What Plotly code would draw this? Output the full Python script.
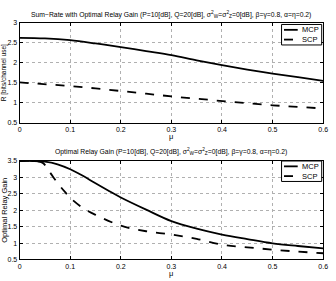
import plotly.graph_objects as go

mu_top = [0, 0.05, 0.1, 0.15, 0.2, 0.25, 0.3, 0.35, 0.4, 0.45, 0.5, 0.55, 0.6]
rate_mcp = [2.62, 2.605, 2.56, 2.48, 2.39, 2.29, 2.19, 2.06, 1.94, 1.83, 1.73, 1.64, 1.55]
rate_scp = [1.51, 1.47, 1.42, 1.36, 1.30, 1.23, 1.16, 1.10, 1.04, 0.99, 0.94, 0.90, 0.86]

mu_gain_mcp = [0, 0.025, 0.05, 0.075, 0.1, 0.125, 0.15, 0.175, 0.2, 0.25, 0.3, 0.35, 0.4, 0.45, 0.5, 0.55, 0.6]
gain_mcp = [3.5, 3.5, 3.48, 3.4, 3.25, 3.05, 2.82, 2.6, 2.39, 2.02, 1.67, 1.44, 1.26, 1.12, 0.99, 0.91, 0.84]
mu_gain_scp = [0, 0.025, 0.045, 0.06, 0.075, 0.09, 0.1, 0.125, 0.15, 0.2, 0.25, 0.3, 0.35, 0.4, 0.45, 0.5, 0.55, 0.6]
gain_scp = [3.5, 3.5, 3.45, 3.15, 2.83, 2.55, 2.38, 2.07, 1.86, 1.53, 1.36, 1.26, 1.13, 0.95, 0.87, 0.8, 0.74, 0.69]

yticks_top = [0.5, 1, 1.5, 2, 2.5, 3]
yticks_bot = [0.5, 1, 1.5, 2, 2.5, 3, 3.5]
xticks = [0, 0.1, 0.2, 0.3, 0.4, 0.5, 0.6]
series_names = ["MCP", "SCP"]

W, H = 336, 281
def px(x):
    return x / W
def py(y):
    return 1 - y / H

fig = go.Figure()
fig.add_trace(go.Scatter(x=mu_top, y=rate_mcp, mode="lines", name=series_names[0], line=dict(color="black", width=1.8, shape="spline"),
                         xaxis="x", yaxis="y"))
fig.add_trace(go.Scatter(x=mu_top, y=rate_scp, mode="lines", name=series_names[1], line=dict(color="black", width=1.8, dash="dash"),
                         xaxis="x", yaxis="y"))
fig.add_trace(go.Scatter(x=mu_gain_mcp, y=gain_mcp, mode="lines", name=series_names[0], line=dict(color="black", width=1.8, shape="spline"),
                         xaxis="x2", yaxis="y2"))
fig.add_trace(go.Scatter(x=mu_gain_scp, y=gain_scp, mode="lines", name=series_names[1], line=dict(color="black", width=1.8, dash="dash", shape="spline"),
                         xaxis="x2", yaxis="y2"))

ax = dict(showline=True, linecolor="black", linewidth=1, mirror="ticks", ticks="inside", ticklen=3,
          tickcolor="black", showgrid=True, gridcolor="#b0b0b0", griddash="dot", gridwidth=1,
          zeroline=False, tickfont=dict(size=7, color="black"), ticklabelstandoff=0)

xticktext = ["0", "0.1", "0.2", "0.3", "0.4", "0.5", "0.6"]

shapes = []
annotations = [
    dict(text="Sum−Rate with Optimal Relay Gain (P=10[dB], Q=20[dB], σ<sup>2</sup><sub>W</sub>=σ<sup>2</sup><sub>Z</sub>=0[dB], β=γ=0.8, α=η=0.2)",
         x=px(173), y=py(11), xref="paper", yref="paper", showarrow=False, font=dict(size=6.8), yanchor="middle"),
    dict(text="Optimal Relay Gain (P=10[dB], Q=20[dB], σ<sup>2</sup><sub>W</sub>=σ<sup>2</sup><sub>Z</sub>=0[dB], β=γ=0.8, α=η=0.2)",
         x=px(173), y=py(151), xref="paper", yref="paper", showarrow=False, font=dict(size=6.8), yanchor="middle"),
    dict(text="μ", x=px(173), y=py(136), xref="paper", yref="paper", showarrow=False, font=dict(size=7.5), yanchor="middle"),
    dict(text="μ", x=px(173), y=py(276.5), xref="paper", yref="paper", showarrow=False, font=dict(size=7.5), yanchor="middle"),
]

# legend boxes (one per panel)
for top in (21, 161):
    shapes.append(dict(type="rect", xref="paper", yref="paper", x0=px(285.5), x1=px(326.5), y0=py(top), y1=py(top + 21),
                       line=dict(color="black", width=1), fillcolor="white", layer="above"))
    for i, (name, dash) in enumerate(zip(series_names, ["solid", "dash"])):
        yy = top + 5.5 + i * 10
        shapes.append(dict(type="line", xref="paper", yref="paper", x0=px(288), x1=px(302), y0=py(yy), y1=py(yy),
                           line=dict(color="black", width=1.8, dash=dash), layer="above"))
        annotations.append(dict(text=name, x=px(304), y=py(yy), xref="paper", yref="paper", showarrow=False,
                                xanchor="left", yanchor="middle", font=dict(size=7.5)))

fig.update_layout(
    width=W, height=H,
    margin=dict(l=0, r=0, t=0, b=0),
    paper_bgcolor="white", plot_bgcolor="white",
    font=dict(family="Liberation Sans, Arial", size=8, color="black"),
    showlegend=False,
    xaxis=dict(ax, domain=[px(18), px(328)], range=[0, 0.6], tickvals=xticks, ticktext=xticktext, anchor="y"),
    yaxis=dict(ax, domain=[py(122), py(19)], range=[0.5, 3], tickvals=yticks_top,
               ticktext=["0.5", "1", "1.5", "2", "2.5", "3"], anchor="x",
               title=dict(text="R [bits/channel use]", font=dict(size=6.5), standoff=2)),
    xaxis2=dict(ax, domain=[px(18), px(328)], range=[0, 0.6], tickvals=xticks, ticktext=xticktext, anchor="y2"),
    yaxis2=dict(ax, domain=[py(262), py(161)], range=[0.5, 3.5], tickvals=yticks_bot,
                ticktext=["0.5", "1", "1.5", "2", "2.5", "3", "3.5"], anchor="x2",
                title=dict(text="Optimal Relay Gain", font=dict(size=7.5), standoff=2)),
    shapes=shapes,
    annotations=annotations,
)

fig.write_html("out.html", config={"displayModeBar": False},
               post_script="document.body.style.margin='0px';document.body.style.overflow='hidden';")
